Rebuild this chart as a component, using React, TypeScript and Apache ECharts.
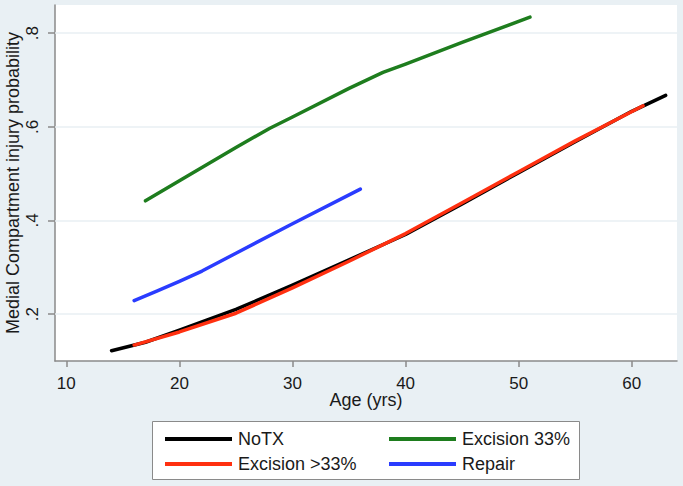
import React, { useEffect, useRef } from 'react';
import * as echarts from 'echarts';

// Age (yrs) and predicted medial compartment injury probability, per group
const notxAge = [14, 17, 20, 25, 30, 35, 40, 45, 50, 55, 60, 63];
const notxProb = [0.122, 0.140, 0.166, 0.210, 0.262, 0.316, 0.370, 0.435, 0.502, 0.568, 0.633, 0.667];

const exc33Age = [17, 20, 25, 28, 30, 35, 38, 40, 45, 51];
const exc33Prob = [0.442, 0.485, 0.556, 0.597, 0.621, 0.682, 0.716, 0.734, 0.780, 0.834];

const excGt33Age = [16, 20, 25, 30, 35, 40, 45, 50, 55, 61];
const excGt33Prob = [0.134, 0.162, 0.202, 0.256, 0.313, 0.372, 0.438, 0.504, 0.570, 0.645];

const repairAge = [16, 18, 20, 22, 25, 30, 36];
const repairProb = [0.229, 0.249, 0.270, 0.292, 0.330, 0.393, 0.467];

const seriesNames = ['NoTX', 'Excision 33%', 'Excision >33%', 'Repair'];
const seriesColors = ['#000000', '#1e7d1e', '#ff3010', '#2a3cff'];

const xTicks = [10, 20, 30, 40, 50, 60];
const yTicks = [0.2, 0.4, 0.6, 0.8];

const FONT = "'Liberation Sans', Arial, Helvetica, sans-serif";
const TEXT = '#1a1a1a';

const zip = (xs: number[], ys: number[]) => xs.map((x, i) => [x, ys[i]]);

export default function App() {
  const ref = useRef<HTMLDivElement>(null);

  useEffect(() => {
    if (!ref.current) return;
    const chart = echarts.init(ref.current, null, { renderer: 'svg' });

    const data = [
      zip(notxAge, notxProb),
      zip(exc33Age, exc33Prob),
      zip(excGt33Age, excGt33Prob),
      zip(repairAge, repairProb),
    ];

    const lineSeries = seriesNames.map((name, i) => ({
      name,
      type: 'line',
      data: data[i],
      showSymbol: false,
      symbol: 'none',
      color: seriesColors[i],
      lineStyle: { width: 3.5, color: seriesColors[i], cap: 'round', join: 'round' },
      z: 10,
    }));

    const legendCommon = {
      orient: 'vertical',
      icon: 'rect',
      itemWidth: 67,
      itemHeight: 4,
      itemGap: 7,
      textStyle: {
        fontFamily: FONT,
        fontSize: 18,
        color: TEXT,
        lineHeight: 18,
        padding: [0, 0, 0, 1],
      },
      selectedMode: false,
    };

    chart.setOption({
      animation: false,
      backgroundColor: '#e9f0f4',
      textStyle: { fontFamily: FONT },
      grid: {
        left: 55,
        top: 5,
        right: 6,
        bottom: 125,
        containLabel: false,
        outerBoundsMode: 'none',
        show: true,
        backgroundColor: '#ffffff',
        borderWidth: 0,
      },
      xAxis: {
        type: 'value',
        min: 9,
        max: 64,
        name: 'Age (yrs)',
        nameLocation: 'middle',
        nameMoveOverlap: false,
        nameGap: 30,
        nameTextStyle: { fontFamily: FONT, fontSize: 18, color: TEXT },
        axisLine: { show: true, lineStyle: { color: '#8a8a8a', width: 1.5 } },
        axisTick: { show: true, customValues: xTicks, length: 6, lineStyle: { color: '#8a8a8a', width: 1.5 } },
        axisLabel: { customValues: xTicks, fontFamily: FONT, fontSize: 17, color: TEXT, margin: 14 },
        splitLine: { show: false },
      },
      yAxis: {
        type: 'value',
        min: 0.1,
        max: 0.86,
        name: 'Medial Compartment injury probability',
        nameLocation: 'middle',
        nameMoveOverlap: false,
        nameRotate: 90,
        nameGap: 33,
        nameTextStyle: { fontFamily: FONT, fontSize: 18, color: TEXT },
        axisLine: { show: true, lineStyle: { color: '#8a8a8a', width: 1.5 } },
        axisTick: { show: true, customValues: yTicks, length: 7, lineStyle: { color: '#8a8a8a', width: 1.5 } },
        axisLabel: {
          customValues: yTicks,
          rotate: 90,
          fontFamily: FONT,
          fontSize: 17,
          color: TEXT,
          margin: 14,
          formatter: (v: number) => v.toFixed(1).replace(/^0/, ''),
        },
        splitLine: { show: false },
      },
      legend: [
        { ...legendCommon, left: 160, top: 425, data: [seriesNames[0], seriesNames[2]] },
        { ...legendCommon, left: 384, top: 425, data: [seriesNames[1], seriesNames[3]] },
      ],
      graphic: [
        {
          type: 'rect',
          left: 152,
          top: 421,
          shape: { width: 427, height: 58 },
          style: { fill: '#ffffff', stroke: '#8a8a8a', lineWidth: 1 },
          z: -1,
        },
      ],
      series: [
        {
          name: '__grid',
          type: 'line',
          data: [],
          z: 1,
          silent: true,
          markLine: {
            silent: true,
            z: 1,
            symbol: 'none',
            label: { show: false },
            lineStyle: { color: '#e8eff3', width: 1.5, type: 'solid' },
            data: yTicks.map((v) => ({ yAxis: v })),
          },
        },
        ...lineSeries,
      ],
    });

    return () => chart.dispose();
  }, []);

  return (
    <div
      ref={ref}
      style={{ position: 'absolute', left: 0, top: 0, width: 683, height: 486 }}
    />
  );
}
